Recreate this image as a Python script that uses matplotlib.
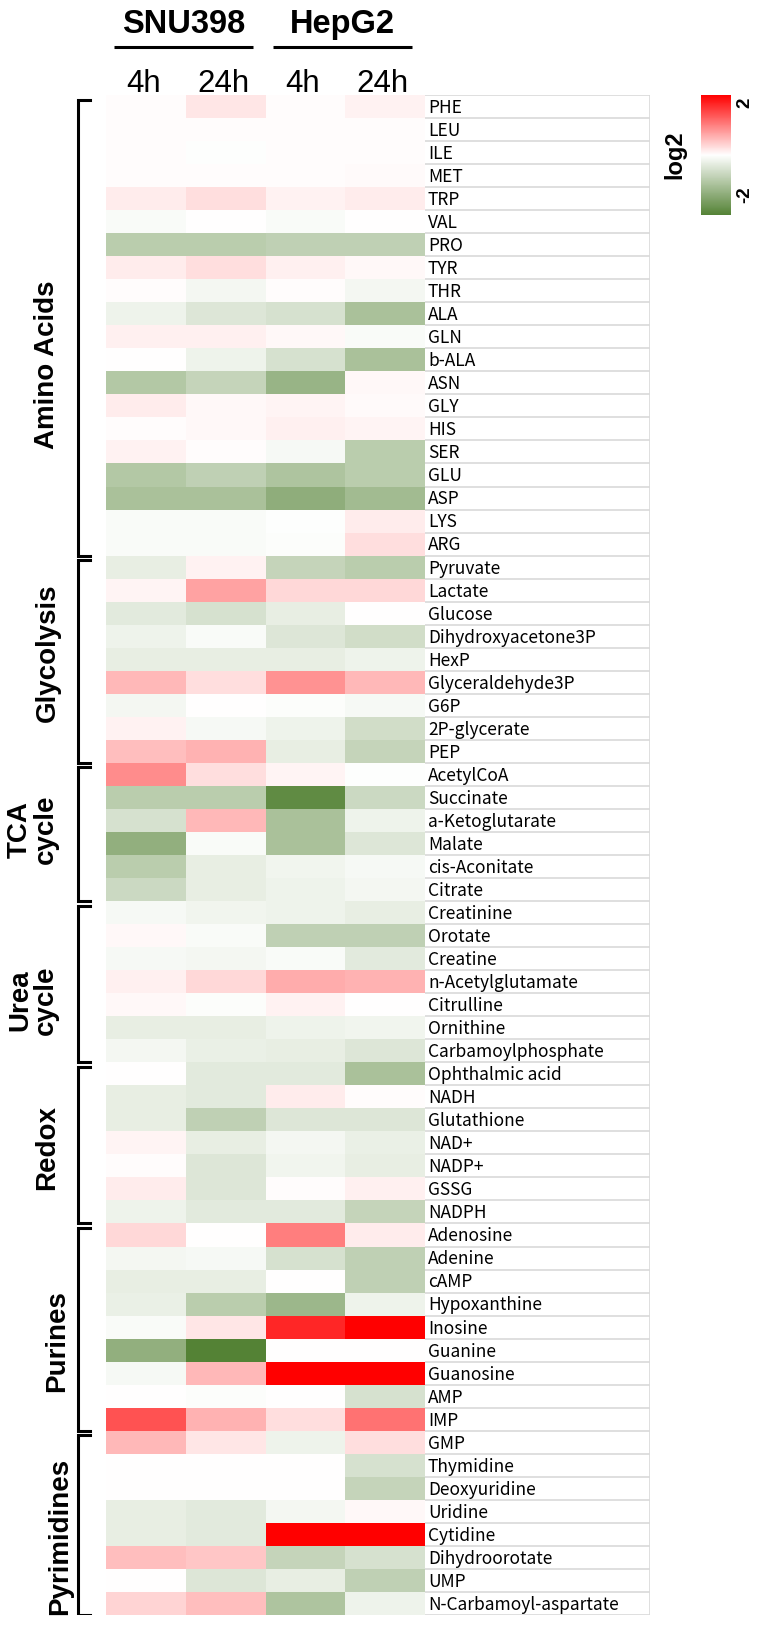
import numpy as np
import matplotlib
matplotlib.use('Agg')
import matplotlib.pyplot as plt
from matplotlib.colors import LinearSegmentedColormap
from matplotlib.transforms import blended_transform_factory

# metabolites, top to bottom
metabolites = ['PHE', 'LEU', 'ILE', 'MET', 'TRP', 'VAL', 'PRO', 'TYR', 'THR', 'ALA',
               'GLN', 'b-ALA', 'ASN', 'GLY', 'HIS', 'SER', 'GLU', 'ASP', 'LYS', 'ARG',
               'Pyruvate', 'Lactate', 'Glucose', 'Dihydroxyacetone3P', 'HexP',
               'Glyceraldehyde3P', 'G6P', '2P-glycerate', 'PEP',
               'AcetylCoA', 'Succinate', 'a-Ketoglutarate', 'Malate', 'cis-Aconitate', 'Citrate',
               'Creatinine', 'Orotate', 'Creatine', 'n-Acetylglutamate', 'Citrulline',
               'Ornithine', 'Carbamoylphosphate',
               'Ophthalmic acid', 'NADH', 'Glutathione', 'NAD+', 'NADP+', 'GSSG', 'NADPH',
               'Adenosine', 'Adenine', 'cAMP', 'Hypoxanthine', 'Inosine', 'Guanine',
               'Guanosine', 'AMP', 'IMP',
               'GMP', 'Thymidine', 'Deoxyuridine', 'Uridine', 'Cytidine', 'Dihydroorotate',
               'UMP', 'N-Carbamoyl-aspartate']

groups = ['Amino Acids', 'Glycolysis', 'TCA\ncycle', 'Urea\ncycle', 'Redox', 'Purines', 'Pyrimidines']
group_sizes = [20, 9, 6, 7, 7, 9, 8]

cell_lines = ['SNU398', 'HepG2']
times = ['4h', '24h', '4h', '24h']

# log2 fold change, one list per column
snu_4h = [0.03, 0.03, 0.03, 0.03, 0.15, -0.07, -0.8, 0.15, 0.02, -0.2,
          0.12, 0.0, -0.88, 0.15, 0.02, 0.1, -0.88, -1.0, -0.07, -0.07,
          -0.27, 0.08, -0.34, -0.2, -0.27, 0.55, -0.13, 0.1, 0.5,
          0.9, -0.8, -0.47, -1.28, -0.8, -0.6,
          -0.1, 0.05, -0.1, 0.12, 0.06, -0.27, -0.13,
          0.0, -0.27, -0.27, 0.08, 0.02, 0.15, -0.2,
          0.3, -0.13, -0.27, -0.24, -0.07, -1.28, -0.1, 0.0, 1.35,
          0.55, 0.0, 0.0, -0.27, -0.27, 0.5, 0.0, 0.33]
snu_24h = [0.2, 0.02, -0.02, 0.02, 0.25, 0.0, -0.8, 0.25, -0.13, -0.4,
           0.12, -0.2, -0.68, 0.05, 0.05, 0.02, -0.74, -1.0, -0.07, -0.07,
           0.1, 0.72, -0.47, -0.07, -0.27, 0.25, 0.0, -0.1, 0.6,
           0.25, -0.8, 0.55, -0.07, -0.27, -0.27,
           -0.16, -0.07, -0.13, 0.3, -0.04, -0.27, -0.24,
           -0.34, -0.34, -0.74, -0.27, -0.4, -0.4, -0.34,
           0.0, -0.1, -0.27, -0.8, 0.2, -2.0, 0.55, -0.04, 0.6,
           0.2, 0.0, 0.0, -0.34, -0.34, 0.45, -0.4, 0.5]
hep_4h = [0.02, 0.02, 0.02, 0.03, 0.1, -0.07, -0.75, 0.12, 0.02, -0.47,
          0.05, -0.47, -1.2, 0.08, 0.12, -0.1, -0.95, -1.3, -0.03, -0.04,
          -0.68, 0.3, -0.27, -0.4, -0.27, 0.85, -0.04, -0.2, -0.27,
          0.08, -1.85, -1.0, -1.0, -0.16, -0.2,
          -0.2, -0.74, -0.07, 0.65, 0.1, -0.2, -0.27,
          -0.34, 0.15, -0.4, -0.13, -0.16, 0.02, -0.34,
          1.0, -0.47, 0.0, -1.15, 1.7, 0.0, 2.0, 0.0, 0.25,
          -0.2, 0.0, 0.0, -0.13, 2.0, -0.68, -0.27, -0.95]
hep_24h = [0.1, 0.03, 0.02, 0.04, 0.15, 0.0, -0.75, 0.05, -0.13, -1.0,
           -0.07, -1.0, 0.05, 0.04, 0.08, -0.8, -0.8, -1.08, 0.15, 0.25,
           -0.8, 0.3, 0.0, -0.54, -0.2, 0.55, -0.1, -0.54, -0.68,
           -0.03, -0.6, -0.2, -0.4, -0.1, -0.13,
           -0.27, -0.74, -0.34, 0.6, 0.0, -0.16, -0.4,
           -1.0, 0.02, -0.4, -0.24, -0.27, 0.12, -0.68,
           0.15, -0.74, -0.74, -0.2, 2.0, 0.0, 2.0, -0.47, 1.1,
           0.25, -0.47, -0.68, 0.05, 2.0, -0.47, -0.74, -0.2]

vals = np.column_stack([snu_4h, snu_24h, hep_4h, hep_24h])
n = len(metabolites)

W, H = 770, 1625
fig = plt.figure(figsize=(W / 100, H / 100), dpi=100)


def box(left, top, width, height):
    return fig.add_axes([left / W, 1 - (top + height) / H, width / W, height / H])


cmap = LinearSegmentedColormap.from_list('gwr', ['#548235', '#ffffff', '#ff0000'])
title_font = 'Liberation Sans'
label_font = ['Noto Sans CJK KR', 'DejaVu Sans']

# heatmap
ax = box(106, 95, 319, 1520)
mesh = ax.pcolormesh(np.arange(5), np.arange(n + 1), vals, cmap=cmap, vmin=-2, vmax=2)
ax.set_xlim(0, 4)
ax.set_ylim(n, 0)
ax.axis('off')

tr = ax.get_xaxis_transform()
for i, t in enumerate(times):
    ax.text(i + 0.47, 1 + 3 / 1520, t, transform=tr, ha='center', va='baseline',
            fontsize=22.5, family=title_font)
for j, name in enumerate(cell_lines):
    c = 2 * j + 0.97
    ax.text(c, 1 + 62 / 1520, name, transform=tr, ha='center', va='baseline',
            fontsize=23.5, fontweight='bold', family=title_font)
    ax.plot([c - 0.87, c + 0.87], [1 + 48 / 1520] * 2, transform=tr, color='black',
            lw=2.2, clip_on=False, solid_capstyle='butt')

# metabolite names with light grid
lab = box(425, 95, 225, 1520)
lab.set_xlim(0, 225)
lab.set_ylim(n, 0)
lab.axis('off')
lab.hlines(np.arange(n + 1), 0, 225, color='#d9d9d9', lw=1.2)
lab.vlines(225, 0, n, color='#d9d9d9', lw=1.2)
for i, m in enumerate(metabolites):
    lab.text(3, i + 0.56, m, ha='left', va='center', fontsize=12.5,
             fontweight='medium', family=label_font)

# group brackets
br = box(0, 95, 106, 1520)
br.set_xlim(0, 106)
br.set_ylim(n, 0)
br.axis('off')
label_shift = [1.6, -0.4, -0.2, 0.7, 0.1, 0.5, 0.5]
label_x = [47, 48, 33, 33, 47, 57, 60]
start = 0
for g, size, dy, lx in zip(groups, group_sizes, label_shift, label_x):
    y0, y1 = start + 0.2, start + size
    br.plot([90, 78.5, 78.5, 90], [y0, y0, y1, y1], color='black', lw=2.2,
            solid_joinstyle='miter')
    br.text(lx, (y0 + y1) / 2 + dy, g, rotation=90, ha='center', va='center',
            fontsize=20, fontweight='bold', family=title_font, linespacing=1.0,
            multialignment='center')
    start += size

# colour scale
cax = box(701, 95, 30, 120)
cb = fig.colorbar(mesh, cax=cax)
cb.outline.set_visible(False)
cb.set_ticks([])
ctr = blended_transform_factory(cax.transAxes, cax.transData)
cax.text(1.45, 1.9, '2', transform=ctr, rotation=90, ha='center', va='top',
         fontsize=13.5, fontweight='bold', family=title_font)
cax.text(1.45, -1.6, '-2', transform=ctr, rotation=90, ha='center', va='bottom',
         fontsize=13.5, fontweight='bold', family=title_font)
cax.text(-0.87, 0.5, 'log2', transform=cax.transAxes, rotation=90, ha='center',
         va='center', fontsize=17, fontweight='bold', family=title_font)

fig.savefig('out.png', dpi=100)
